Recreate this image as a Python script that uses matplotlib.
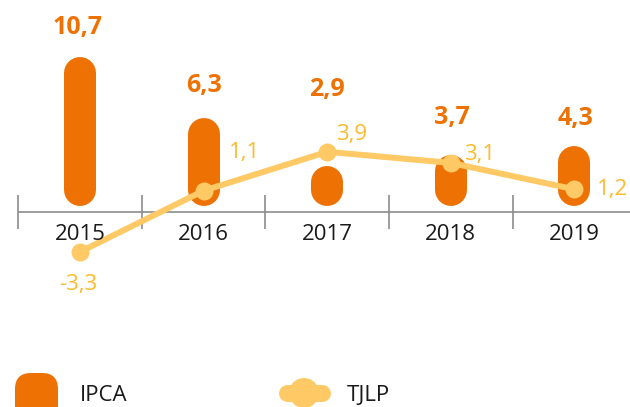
import matplotlib
matplotlib.use("Agg")
import matplotlib.pyplot as plt
from matplotlib.patches import FancyBboxPatch, Circle
from matplotlib.lines import Line2D

# Data
years = ["2015", "2016", "2017", "2018", "2019"]
ipca = [10.7, 6.3, 2.9, 3.7, 4.3]
tjlp = [-3.3, 1.1, 3.9, 3.1, 1.2]

# Label placement (pixel offsets from each mark)
ipca_label_offsets = [(-3, 30), (0, 33), (0, 76), (1, 37), (1, 28)]
tjlp_label_offsets = [(-2, -33), (41, 38), (24, 17), (29, 8), (38, 0)]

ORANGE = "#EE7203"
YELLOW = "#FFC966"
YELLOW_TEXT = "#FCBB2E"
GRAY = "#8C8C8C"
INK = "#1A1A1A"
FONT = ["Open Sans", "DejaVu Sans"]

W, H, DPI = 630, 407, 100
PX_PER_UNIT = 13.9   # vertical scale
ZERO_PX = 206        # zero line, pixels from top
STEP_PX = 123.6      # category spacing
FIRST_PX = 80        # centre of first category
BAR_PX = 32          # bar width

def fmt(v):
    return f"{v:.1f}".replace(".", ",")

fig = plt.figure(figsize=(W / DPI, H / DPI), dpi=DPI)
ax = fig.add_axes([0, 0, 1, 1])
ax.set_xlim(-FIRST_PX / STEP_PX, (W - FIRST_PX) / STEP_PX)
ax.set_ylim(-(H - ZERO_PX) / PX_PER_UNIT, ZERO_PX / PX_PER_UNIT)
ax.axis("off")

x = list(range(len(years)))
xmax = ax.get_xlim()[1]

# Baseline axis with separators between categories
axis_y = -6 / PX_PER_UNIT
ax.hlines(axis_y, -0.5, xmax, color=GRAY, lw=1.2, zorder=1)
ax.vlines([i - 0.5 for i in x], -23 / PX_PER_UNIT, 11 / PX_PER_UNIT,
          color=GRAY, lw=1.2, zorder=1)

# IPCA pill-shaped bars
cap = (BAR_PX / 2) / PX_PER_UNIT
ax.vlines(x, [cap] * len(x), [v - cap for v in ipca],
          color=ORANGE, lw=BAR_PX * 72 / DPI, capstyle="round", zorder=2)

# TJLP line
ax.plot(x, tjlp, color=YELLOW, lw=6 * 72 / DPI, marker="o",
        markersize=18 * 72 / DPI, markeredgewidth=0, zorder=3,
        solid_capstyle="round")

# Category labels
for i, y in zip(x, years):
    ax.text(i, -28 / PX_PER_UNIT, y, ha="center", va="center",
            fontsize=16, color=INK, family=FONT)

# Value labels
for i, v, (dx, dy) in zip(x, ipca, ipca_label_offsets):
    ax.annotate(fmt(v), (i, v), xytext=(dx, dy), textcoords="offset pixels",
                ha="center", va="center", fontsize=18, fontweight="bold",
                color=ORANGE, family=FONT)
for i, v, (dx, dy) in zip(x, tjlp, tjlp_label_offsets):
    ax.annotate(fmt(v), (i, v), xytext=(dx, dy), textcoords="offset pixels",
                ha="center", va="center", fontsize=16,
                color=YELLOW_TEXT, family=FONT)

# Legend drawn in pixel space
lax = fig.add_axes([0, 0, 1, 1])
lax.set_xlim(0, W)
lax.set_ylim(H, 0)
lax.axis("off")
lax.add_patch(FancyBboxPatch((15, 373), 43, 50,
                             boxstyle="round,pad=0,rounding_size=16",
                             fc=ORANGE, ec="none"))
lax.text(80, 401, "IPCA", ha="left", va="baseline", fontsize=16,
         color=INK, family=FONT)
lax.add_line(Line2D([286.5, 321.5], [393, 393], color=YELLOW,
                    lw=17 * 72 / DPI, solid_capstyle="round"))
lax.add_patch(Circle((304, 393), 15, fc=YELLOW, ec="none"))
lax.text(347, 401, "TJLP", ha="left", va="baseline", fontsize=16,
         color=INK, family=FONT)

fig.savefig("out.png", dpi=DPI)
